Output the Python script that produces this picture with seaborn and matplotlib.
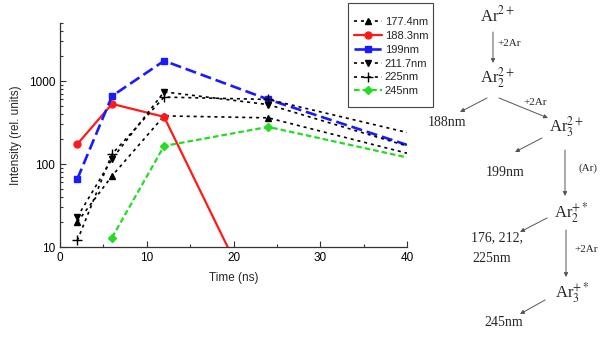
import matplotlib
matplotlib.use("Agg")
import matplotlib.pyplot as plt
from matplotlib.ticker import LogLocator, NullFormatter
from matplotlib.patches import Rectangle
import seaborn as sns
import numpy as np

# ---- data ----
t_177 = [2, 6, 12, 24, 40]
i_177 = [20, 72, 380, 360, 135]
t_188 = [2, 6, 12, 24]
i_188 = [174, 530, 370, 1.0]
t_199 = [2, 6, 12, 24, 40]
i_199 = [66, 660, 1750, 600, 170]
t_211 = [2, 6, 12, 24, 40]
i_211 = [23, 115, 740, 520, 165]
t_225 = [2, 6, 12, 24, 40]
i_225 = [12, 132, 640, 600, 240]
t_245 = [6, 12, 24, 40]
i_245 = [13, 165, 280, 120]
labels = ["177.4nm", "188.3nm", "199nm", "211.7nm", "225nm", "245nm"]

sns.set_style("ticks")
plt.rcParams["font.family"] = ["Liberation Sans", "DejaVu Sans"]
plt.rcParams["lines.scale_dashes"] = False
plt.rcParams["mathtext.fontset"] = "stix"

W, H = 600, 339
fig = plt.figure(figsize=(6.0, 3.39), dpi=100)
ax = fig.add_axes([60 / W, 1 - 247 / H, (407 - 60) / W, (247 - 23) / H])

blk = (0, (2.2, 2.8))
series = [
    (t_177, i_177, "black", "^", blk, 1.2, 5),
    (t_188, i_188, "#ff1a1a", "o", "-", 1.6, 5),
    (t_199, i_199, "#1a1aff", "s", (0, (8, 3.5)), 1.9, 5),
    (t_211, i_211, "black", "v", blk, 1.2, 5),
    (t_225, i_225, "black", "+", blk, 1.2, 7),
    (t_245, i_245, "#22dd22", "D", (0, (4, 2.2)), 1.6, 4),
]
for (x, y, c, m, ls, lw, ms), lab in zip(series, labels):
    marked = [k for k, xv in enumerate(x) if xv <= 24]
    sns.lineplot(x=x, y=y, ax=ax, color=c, marker=m, linestyle=ls, lw=lw,
                 markersize=ms, markeredgecolor=c, markerfacecolor=c,
                 markeredgewidth=1.0, markevery=marked, label=lab)

ax.set_yscale("log")
ax.set_ylim(10, 5000)
ax.set_xlim(0, 40)
ax.set_xticks([0, 10, 20, 30, 40])
ax.set_xticks([5, 15, 25, 35], minor=True)
ax.set_yticks([10, 100, 1000])
ax.set_yticklabels(["10", "100", "1000"])
ax.yaxis.set_minor_locator(LogLocator(base=10, subs=np.arange(2, 10)))
ax.yaxis.set_minor_formatter(NullFormatter())
ax.tick_params(axis="both", which="both", direction="in", labelsize=8.5,
               colors="#333333", labelcolor="black", width=0.8)
ax.tick_params(which="major", length=4)
ax.tick_params(which="minor", length=2.5)
for s in ("left", "bottom"):
    ax.spines[s].set_color("#333333")
    ax.spines[s].set_linewidth(0.9)
sns.despine(ax=ax)
ax.set_xlabel("Time (ns)", fontsize=8.5)
ax.set_ylabel("Intensity (rel. units)", fontsize=8.5)
ax.xaxis.set_label_coords(0.5, -0.11)
ax.yaxis.set_label_coords(-0.11, 0.5)

leg = ax.legend(loc="upper left", bbox_to_anchor=(351 / W, 1 - 14 / H),
                bbox_transform=fig.transFigure, fontsize=8, numpoints=1,
                handlelength=2.5, handletextpad=0.25, labelspacing=0.34,
                borderpad=0.3, frameon=False, borderaxespad=0)
fig.patches.append(Rectangle((348 / W, 1 - 107 / H), 85 / W, 104 / H,
                             transform=fig.transFigure, fill=False,
                             edgecolor="#444444", linewidth=0.8))

# ---- reaction diagram on the right (figure pixels, y from top) ----
def ftxt(x, y, s, size=10):
    fig.text(x / W, 1 - y / H, s, ha="center", va="center", fontsize=size,
             family=["Liberation Serif", "DejaVu Serif"])

def farrow(x0, y0, x1, y1):
    ax.annotate("", xy=(x1, H - y1), xytext=(x0, H - y0),
                xycoords="figure pixels", textcoords="figure pixels",
                annotation_clip=False,
                arrowprops=dict(arrowstyle="-|>", color="#555555", lw=0.7,
                                mutation_scale=6, shrinkA=0, shrinkB=0))

ftxt(497, 15, r"Ar$^{2+}$", 12)
farrow(493, 32, 493, 63)
ftxt(509, 43, "+2Ar", 8)
ftxt(497, 78, r"Ar$_2^{2+}$", 12)
farrow(487, 98, 460, 112)
ftxt(447, 123, "188nm", 10)
farrow(499, 98, 548, 118)
ftxt(535, 103, "+2Ar", 8)
ftxt(566, 127, r"Ar$_3^{2+}$", 12)
farrow(542, 138, 515, 152)
ftxt(505, 172, "199nm", 10)
farrow(565, 150, 565, 196)
ftxt(588, 168, "(Ar)", 8)
ftxt(571, 213, r"Ar$_2^{+*}$", 12)
farrow(547, 218, 520, 232)
ftxt(497, 238, "176, 212,", 10)
ftxt(492, 258, "225nm", 10)
farrow(566, 230, 566, 277)
ftxt(586, 250, "+2Ar", 8)
ftxt(572, 293, r"Ar$_3^{+*}$", 12)
farrow(545, 300, 520, 314)
ftxt(504, 323, "245nm", 10)

fig.savefig("out.png", dpi=100, facecolor="white")
